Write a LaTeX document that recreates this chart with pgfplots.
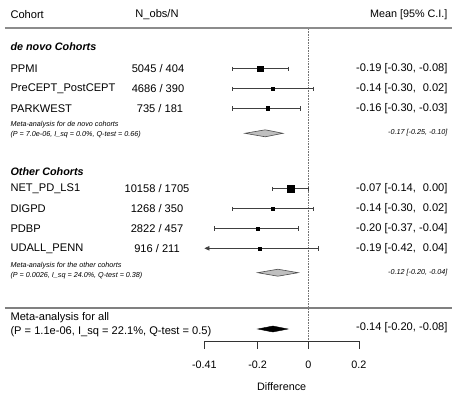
\documentclass[border=0pt]{standalone}
\usepackage{fontspec}
\setmainfont{Liberation Sans}
\usepackage{pgfplots}
\pgfplotsset{compat=1.18}
\usetikzlibrary{arrows.meta}
\newcommand{\fs}[1]{\fontsize{#1}{#1}\selectfont}
\def\X#1{{((#1)-308.3)/253.3}}
\def\B{11.1}
\begin{document}
\begin{tikzpicture}
\begin{axis}[scale only axis, width=455pt, height=394pt,
  xmin=-1.2171, xmax=0.5792, ymin=0, ymax=394, y dir=reverse,
  hide axis, clip=false,
  ci/.style={draw=black!75, line width=0.7pt, mark=|, mark size=2.2pt, mark options={solid, line width=0.7pt}},
  sq/.style={only marks, mark=square*, black, mark size=#1},
  every node/.append style={inner sep=0pt, text=black!85}]
\path (rel axis cs:0,0) rectangle (rel axis cs:1,1);
% header
\node[anchor=west] at (axis cs:\X{7},15) {\fs{\B}Cohort};
\node at (axis cs:\X{157},15) {\fs{\B}N\_obs/N};
\node[anchor=east] at (axis cs:\X{451},15) {\fs{10.8}Mean [95\% C.I.]};
\addplot[draw=black!45, line width=1.8pt] coordinates {(\X{5},28.3) (\X{452},28.3)};
% reference line
\addplot[black!55, densely dotted, line width=0.6pt] coordinates {(0,29) (0,341.7)};
% de novo
\node[anchor=west] at (axis cs:\X{7},46.7) {\fs{10.8}\bfseries\itshape de novo Cohorts};
\node[anchor=west] at (axis cs:\X{7},68.7) {\fs{\B}PPMI};
\node[anchor=west] at (axis cs:\X{7},88.7) {\fs{\B}PreCEPT\_PostCEPT};
\node[anchor=west] at (axis cs:\X{7},108.4) {\fs{\B}PARKWEST};
\node at (axis cs:\X{158},68.7) {\fs{\B}5045 / 404};
\node at (axis cs:\X{158},88.7) {\fs{\B}4686 / 390};
\node at (axis cs:\X{160},108.4) {\fs{\B}735 / 181};
\node[anchor=east] at (axis cs:\X{451},68.7) {\fs{\B}-0.19 [-0.30, -0.08]};
\node[anchor=east] at (axis cs:\X{451},88.7) {\fs{\B}-0.14 [-0.30, \hphantom{-}0.02]};
\node[anchor=east] at (axis cs:\X{451},108.4) {\fs{\B}-0.16 [-0.30, -0.03]};
\addplot[ci] coordinates {(-0.30,68.7) (-0.08,68.7)};
\addplot[ci] coordinates {(-0.30,88.7) (0.02,88.7)};
\addplot[ci] coordinates {(-0.30,108.4) (-0.03,108.4)};
\addplot[sq=2.6pt] coordinates {(-0.19,68.7)};
\addplot[sq=1.8pt] coordinates {(-0.14,88.7)};
\addplot[sq=1.8pt] coordinates {(-0.16,108.4)};
\node[anchor=west] at (axis cs:\X{7},125) {\fs{7.2}\itshape Meta-analysis for de novo cohorts};
\node[anchor=west] at (axis cs:\X{7},134.5) {\fs{7.2}\itshape (P = 7.0e-06, I\_sq = 0.0\%, Q-test = 0.66)};
\node[anchor=east] at (axis cs:\X{451},133) {\fs{7.2}\itshape -0.17 [-0.25, -0.10]};
\addplot[fill=black!25, draw=black!70, line width=0.6pt] coordinates {(-0.25,133.3) (-0.17,129.8) (-0.10,133.3) (-0.17,136.8)} -- cycle;
% other
\node[anchor=west] at (axis cs:\X{7},171.7) {\fs{10.8}\bfseries\itshape Other Cohorts};
\node[anchor=west] at (axis cs:\X{7},188.7) {\fs{\B}NET\_PD\_LS1};
\node[anchor=west] at (axis cs:\X{7},208.7) {\fs{\B}DIGPD};
\node[anchor=west] at (axis cs:\X{7},228.3) {\fs{\B}PDBP};
\node[anchor=west] at (axis cs:\X{7},248.3) {\fs{\B}UDALL\_PENN};
\node at (axis cs:\X{157},188.7) {\fs{\B}10158 / 1705};
\node at (axis cs:\X{157},208.7) {\fs{\B}1268 / 350};
\node at (axis cs:\X{157},228.3) {\fs{\B}2822 / 457};
\node at (axis cs:\X{157},248.3) {\fs{\B}916 / 211};
\node[anchor=east] at (axis cs:\X{451},188.7) {\fs{\B}-0.07 [-0.14, \hphantom{-}0.00]};
\node[anchor=east] at (axis cs:\X{451},208.7) {\fs{\B}-0.14 [-0.30, \hphantom{-}0.02]};
\node[anchor=east] at (axis cs:\X{451},228.3) {\fs{\B}-0.20 [-0.37, -0.04]};
\node[anchor=east] at (axis cs:\X{451},248.3) {\fs{\B}-0.19 [-0.42, \hphantom{-}0.04]};
\addplot[ci] coordinates {(-0.14,188.7) (0.00,188.7)};
\addplot[ci] coordinates {(-0.30,208.7) (0.02,208.7)};
\addplot[ci] coordinates {(-0.37,228.3) (-0.04,228.3)};
\addplot[draw=black!75, line width=0.7pt, {Triangle[length=5pt,width=4.5pt]}-] coordinates {(-0.41,248.3) (0.04,248.3)};
\addplot[only marks, mark=|, mark size=2.2pt, draw=black!75, mark options={line width=0.7pt}] coordinates {(0.04,248.3)};
\addplot[sq=3.6pt] coordinates {(-0.07,188.7)};
\addplot[sq=1.6pt] coordinates {(-0.14,208.7)};
\addplot[sq=1.6pt] coordinates {(-0.20,228.3)};
\addplot[sq=1.5pt] coordinates {(-0.19,248.3)};
\node[anchor=west] at (axis cs:\X{7},266) {\fs{7.2}\itshape Meta-analysis for the other cohorts};
\node[anchor=west] at (axis cs:\X{7},275.5) {\fs{7.2}\itshape (P = 0.0026, I\_sq = 24.0\%, Q-test = 0.38)};
\node[anchor=east] at (axis cs:\X{451},272.5) {\fs{7.2}\itshape -0.12 [-0.20, -0.04]};
\addplot[fill=black!25, draw=black!70, line width=0.6pt] coordinates {(-0.20,272.7) (-0.12,269.2) (-0.04,272.7) (-0.12,276.2)} -- cycle;
% overall
\addplot[draw=black!50, line width=1.3pt] coordinates {(\X{5},308) (\X{452},308)};
\node[anchor=west] at (axis cs:\X{7},318) {\fs{\B}Meta-analysis for all};
\node[anchor=west] at (axis cs:\X{7},332) {\fs{\B}(P = 1.1e-06, I\_sq = 22.1\%, Q-test = 0.5)};
\node[anchor=east] at (axis cs:\X{451},327.5) {\fs{\B}-0.14 [-0.20, -0.08]};
\addplot[fill=black, draw=black] coordinates {(-0.20,329) (-0.14,326) (-0.08,329) (-0.14,332)} -- cycle;
% x axis
\addplot[black!80, line width=0.8pt] coordinates {(-0.41,341.7) (0.2,341.7)};
\foreach \t in {-0.41,-0.2,0,0.2}{
  \edef\tmp{\noexpand\draw[black!80, line width=0.8pt] (axis cs:\t,341.3) -- (axis cs:\t,349);}\tmp
}
\node at (axis cs:-0.41,364.5) {\fs{10.8}-0.41};
\node at (axis cs:-0.2,364.5) {\fs{10.8}-0.2};
\node at (axis cs:0,364.5) {\fs{10.8}0};
\node at (axis cs:0.2,364.5) {\fs{10.8}0.2};
\node at (axis cs:-0.105,387) {\fs{10.8}Difference};
\end{axis}
\end{tikzpicture}
\end{document}
